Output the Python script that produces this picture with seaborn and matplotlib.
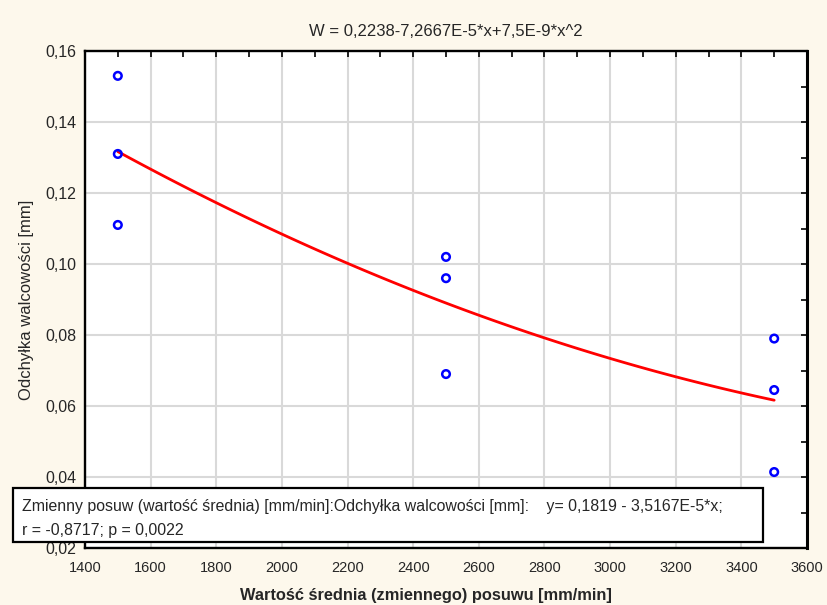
import numpy as np
import pandas as pd
import matplotlib
matplotlib.use('Agg')
import matplotlib.pyplot as plt
import seaborn as sns
from matplotlib.patches import Rectangle
from matplotlib.ticker import MultipleLocator, FuncFormatter

# dane
posuw = [1500, 1500, 1500, 2500, 2500, 2500, 3500, 3500, 3500]
odchylka = [0.153, 0.131, 0.111, 0.102, 0.096, 0.069, 0.079, 0.0645, 0.0414]

x_ticks = [1400, 1600, 1800, 2000, 2200, 2400, 2600, 2800, 3000, 3200, 3400, 3600]
y_ticks = [0.02, 0.04, 0.06, 0.08, 0.10, 0.12, 0.14, 0.16]

title_txt = 'W = 0,2238-7,2667E-5*x+7,5E-9*x^2'
box_line1 = ('Zmienny posuw (wartość średnia) [mm/min]:Odchyłka walcowości [mm]:    '
             'y= 0,1819 - 3,5167E-5*x;')
box_line2 = 'r = -0,8717; p = 0,0022'

df = pd.DataFrame({'posuw': posuw, 'odchylka': odchylka})

sns.set_style('white')
plt.rcParams['font.family'] = ['Liberation Sans', 'DejaVu Sans']

bg = '#fdf8ec'
fig = plt.figure(figsize=(8.27, 6.05), dpi=100, facecolor=bg)
# obszar wykresu: x 85..807 px, y 51..548 px
ax = fig.add_axes([85 / 827, 1 - 548 / 605, 722 / 827, 497 / 605])
ax.set_facecolor('white')

# krzywa dopasowania 2. stopnia
sns.regplot(data=df, x='posuw', y='odchylka', order=2, ci=None, scatter=False, truncate=True,
            line_kws={'color': '#ff0000', 'linewidth': 2.0}, ax=ax)
sns.scatterplot(data=df, x='posuw', y='odchylka', marker='o', s=30,
                facecolor='none', edgecolor='#0000ff', linewidth=1.8, ax=ax, zorder=5)

ax.set_xlim(1400, 3600)
ax.set_ylim(0.02, 0.16)
ax.set_xticks(x_ticks)
ax.set_yticks(y_ticks)
ax.xaxis.set_minor_locator(MultipleLocator(100))
ax.yaxis.set_minor_locator(MultipleLocator(0.01))
ax.yaxis.set_major_formatter(FuncFormatter(lambda v, p: f'{v:.2f}'.replace('.', ',')))
ax.xaxis.set_major_formatter(FuncFormatter(lambda v, p: f'{v:.0f}'))

ax.tick_params(which='both', direction='in', top=True, right=True, length=4.5,
               width=1.2, color='black')
ax.tick_params(axis='x', labelsize=10.5, pad=9)
ax.tick_params(axis='y', labelsize=11.5, pad=6)
ax.grid(True, which='major', color='#d9d9d9', linewidth=1.5)
ax.set_axisbelow(True)
for sp in ax.spines.values():
    sp.set_color('black')
    sp.set_linewidth(1.7)
ax.spines['right'].set_linewidth(2.2)

ax.set_title(title_txt, fontsize=12, pad=11)
ax.set_xlabel('Wartość średnia (zmiennego) posuwu [mm/min]', fontsize=11.8,
              fontweight='bold', labelpad=10)
ax.xaxis.label.set_x((426 - 85) / 722)
ax.set_ylabel('Odchyłka walcowości [mm]', fontsize=12, labelpad=8)

# ramka z równaniem regresji liniowej
fig.patches.append(Rectangle((13 / 827, 1 - 542 / 605), 750 / 827, 54 / 605,
                             transform=fig.transFigure, facecolor='white',
                             edgecolor='black', linewidth=1.6, zorder=10))
fig.text(22 / 827, 1 - 507 / 605, box_line1, fontsize=11.4, ha='left', va='center', zorder=11)
fig.text(22 / 827, 1 - 531 / 605, box_line2, fontsize=11.4, ha='left', va='center', zorder=11)

plt.savefig('out.png', dpi=100, facecolor=bg)
